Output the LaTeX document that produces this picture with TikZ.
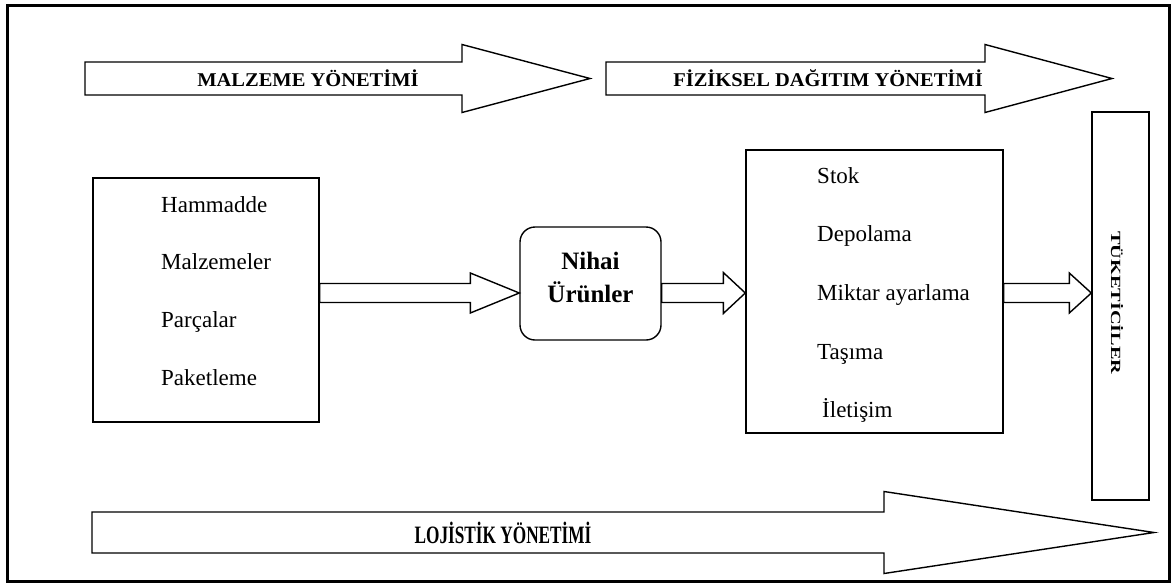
\documentclass[tikz,border=0pt]{standalone}
\usepackage{fontspec}
\setmainfont{Liberation Serif}
\usepackage{graphicx}
\usetikzlibrary{calc}

\tikzset{
  box/.style={draw, line width=1.4pt, inner sep=0pt},
  item/.style={anchor=base west, inner sep=0pt, font=\fontsize{23}{23}\selectfont},
  banner/.style={inner sep=0pt, font=\bfseries\fontsize{19.5}{19.5}\selectfont},
  fatline/.style={line width=1.4pt, line join=miter, fill=white},
}

% #1 start, #2 tip, #3 half shaft, #4 half head, #5 head length
\newcommand{\fatarrow}[5]{%
  \draw[fatline] ($(#1)+(0,#3)$) -- ($(#2)+(-#5,#3)$) -- ($(#2)+(-#5,#4)$) -- (#2)
    -- ($(#2)+(-#5,-#4)$) -- ($(#2)+(-#5,-#3)$) -- ($(#1)+(0,-#3)$) -- cycle;}

\begin{document}
\begin{tikzpicture}[x=1pt,y=-1pt]
  % Parameters
\def\Ytop{78.5}
\def\Yflow{293}
\def\Ybot{532.5}

 \useasboundingbox (0,0) rectangle (1174,584);
 \draw[line width=3pt] (7,5) rectangle (1169,581);

 \coordinate (mat1) at (85,\Ytop);
 \coordinate (mat2) at (590,\Ytop);
 \coordinate (phy1) at (606,\Ytop);
 \coordinate (phy2) at (1112,\Ytop);
 \coordinate (log1) at (92,\Ybot);
 \coordinate (log2) at (1154,\Ybot);
 \coordinate (flow) at (0,\Yflow);

  % Boxes
 \node[box, minimum width=226pt, minimum height=244pt] (supply) at (206,300) {};
 \node[box, rounded corners=15pt, minimum width=141pt, minimum height=113pt] (product) at (590.5,283.5) {};
 \node[align=center, inner sep=0pt, font=\bfseries\fontsize{25}{33}\selectfont] (productlabel)
      at (590.5,277) {Nihai\\Ürünler};
 \node[box, minimum width=257pt, minimum height=283pt] (distrib) at (874.5,291.5) {};
 \node[box, minimum width=57pt, minimum height=388pt] (consumer) at (1120.5,306) {};

  % Management arrows
 \fatarrow{mat1}{mat2}{16.5}{34}{128}
 \fatarrow{phy1}{phy2}{16.5}{34}{127}
 \fatarrow{log1}{log2}{20.5}{41}{270}

 \node[banner] (matlabel) at (308,\Ytop) {\scalebox{1.05}[1]{MALZEME YÖNETİMİ}};
 \node[banner] (phylabel) at (828,\Ytop) {\scalebox{1.05}[1]{FİZİKSEL DAĞITIM YÖNETİMİ}};
 \node[banner, font=\bfseries\fontsize{25}{25}\selectfont] (loglabel) at (503,\Ybot)
       {\scalebox{0.69}[1]{LOJİSTİK YÖNETİMİ}};

  % Flow arrows
 \fatarrow{supply.east |- flow}{product.west |- flow}{9.5}{20}{49}
 \fatarrow{product.east |- flow}{distrib.west |- flow}{9.5}{20.5}{22}
 \fatarrow{distrib.east |- flow}{consumer.west |- flow}{9.5}{20}{22}

  % Items
 \foreach \txt [count=\i] in {Hammadde, Malzemeler, Parçalar, Paketleme}
   \node[item] (supply-\i) at (161,{212+57.7*(\i-1)}) {\txt};
 \foreach \dx/\txt [count=\i] in {0/Stok, 0/Depolama, 0/Miktar ayarlama, 0/Taşıma, 5/İletişim}
   \node[item] (distrib-\i) at (817+\dx,{183+58.7*(\i-1)}) {\txt};

 \node[banner, rotate=-90, font=\bfseries\fontsize{14}{14}\selectfont] (consumerlabel)
      at (1117,303) {\scalebox{1.45}[1]{TÜKETİCİLER}};

\end{tikzpicture}
\end{document}
